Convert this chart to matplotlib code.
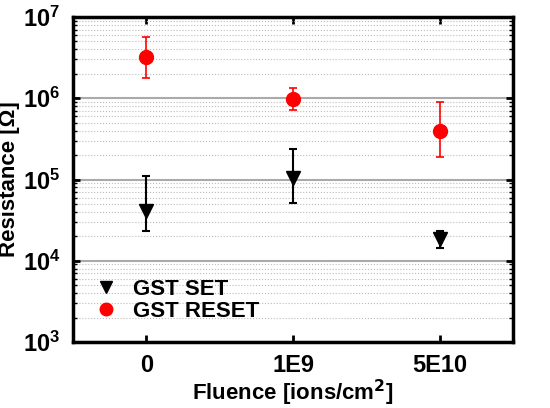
import numpy as np
import matplotlib
matplotlib.use("Agg")
import matplotlib.pyplot as plt
from matplotlib.ticker import LogLocator, NullFormatter
from matplotlib.lines import Line2D

plt.rcParams['font.family'] = ['Liberation Sans', 'DejaVu Sans']
plt.rcParams['font.weight'] = 'bold'
plt.rcParams['mathtext.default'] = 'bf'

# data
fluence = ['0', '1E9', '5E10']
set_val = [4.1e4, 1.04e5, 1.85e4]
set_hi = [1.09e5, 2.35e5, 2.35e4]
set_lo = [2.3e4, 5.1e4, 1.45e4]
reset_val = [3.2e6, 0.97e6, 4.0e5]
reset_hi = [5.6e6, 1.35e6, 9.0e5]
reset_lo = [1.8e6, 7.2e5, 1.9e5]

x = np.arange(len(fluence))
set_err = [np.array(set_val) - np.array(set_lo), np.array(set_hi) - np.array(set_val)]
reset_err = [np.array(reset_val) - np.array(reset_lo), np.array(reset_hi) - np.array(reset_val)]

fig = plt.figure(figsize=(5.5, 4.08), dpi=100)
ax = fig.add_axes([73/550, 1 - 342/408, 440/550, 325/408])

ax.errorbar(x, set_val, yerr=set_err, fmt='v', color='black', ms=10,
            capsize=3, elinewidth=1.5, capthick=1.5, zorder=3)
ax.errorbar(x, reset_val, yerr=reset_err, fmt='o', color='red', ms=10,
            capsize=3, elinewidth=1.2, capthick=1.2, zorder=3)

ax.set_yscale('log')
ax.set_ylim(1e3, 1e7)
ax.set_xlim(-0.5, 2.5)
ax.set_xticks(x)
ax.set_xticklabels(fluence)
ax.yaxis.set_major_locator(LogLocator(base=10, numticks=10))
ax.yaxis.set_minor_locator(LogLocator(base=10, subs=np.arange(2, 10), numticks=20))
ax.yaxis.set_minor_formatter(NullFormatter())

ax.grid(which='major', axis='y', color='#aaaaaa', lw=1.5)
ax.grid(which='minor', axis='y', color='#bbbbbb', lw=0.8, ls=':')
ax.set_axisbelow(True)

for s in ax.spines.values():
    s.set_linewidth(2.5)
ax.tick_params(which='major', direction='in', length=5, width=2, top=True, right=True,
               labelsize=17, pad=9)
ax.tick_params(which='minor', direction='in', length=3, width=1, right=True, left=True)

ax.set_xlabel('Fluence [ions/cm$^2$]', fontsize=16, fontweight='bold', labelpad=0)
ax.set_ylabel('Resistance [Ω]', fontsize=16, fontweight='bold', labelpad=2)

handles = [Line2D([], [], ls='none', marker='v', color='black', ms=9),
           Line2D([], [], ls='none', marker='o', color='red', ms=9)]
ax.legend(handles, ['GST SET', 'GST RESET'], loc='lower left', frameon=False,
          fontsize=16, handletextpad=0.6, labelspacing=0.05, handlelength=1.2,
          borderaxespad=0.2, bbox_to_anchor=(0.015, 0.02))

fig.savefig('out.png', dpi=100)
